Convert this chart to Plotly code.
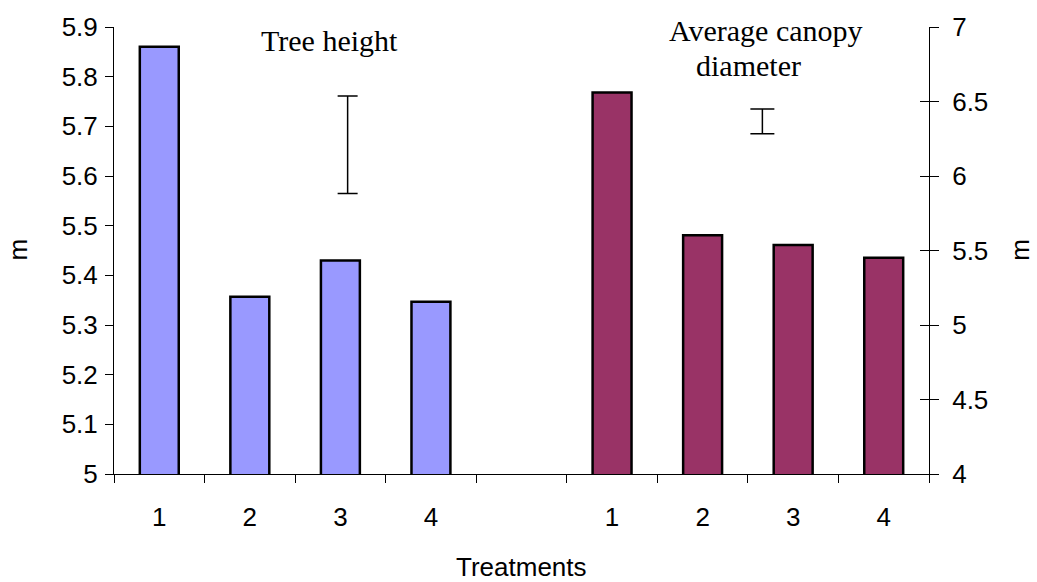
import plotly.graph_objects as go

# Treatment labels; slot 4 is the empty gap between the two groups
tick_labels = ["1", "2", "3", "4", "", "1", "2", "3", "4"]
height_pos = [0, 1, 2, 3]
canopy_pos = [5, 6, 7, 8]

tree_height = [5.86, 5.357, 5.43, 5.347]        # m, left axis
canopy_diameter = [6.56, 5.603, 5.537, 5.452]   # m, right axis

# LSD-style bars drawn beside each group
height_lsd_x, height_lsd_mid, height_lsd_half = 2.08, 5.663, 0.098
canopy_lsd_x, canopy_lsd_mid, canopy_lsd_half = 6.66, 6.366, 0.083

TICK_FONT = dict(family="Liberation Sans, Arial, sans-serif", size=26, color="black")
SERIF = dict(family="Liberation Serif, Times New Roman, serif", size=30, color="black")

fig = go.Figure()
fig.add_trace(go.Bar(
    x=height_pos, y=tree_height, width=0.43,
    marker=dict(color="#9999FF", line=dict(color="black", width=2.5)),
    yaxis="y", showlegend=False,
))
fig.add_trace(go.Bar(
    x=canopy_pos, y=canopy_diameter, width=0.43,
    marker=dict(color="#993366", line=dict(color="black", width=2.5)),
    yaxis="y2", showlegend=False,
))
fig.add_trace(go.Scatter(
    x=[height_lsd_x], y=[height_lsd_mid], mode="markers",
    marker=dict(size=1, color="rgba(0,0,0,0)"),
    error_y=dict(type="constant", value=height_lsd_half, color="black", thickness=1.5, width=10),
    yaxis="y", showlegend=False,
))
fig.add_trace(go.Scatter(
    x=[canopy_lsd_x], y=[canopy_lsd_mid], mode="markers",
    marker=dict(size=1, color="rgba(0,0,0,0)"),
    error_y=dict(type="constant", value=canopy_lsd_half, color="black", thickness=1.5, width=12),
    yaxis="y2", showlegend=False,
))

fig.update_layout(
    width=1037, height=582,
    margin=dict(l=114, r=108, t=24, b=108),
    paper_bgcolor="white", plot_bgcolor="white",
    barmode="overlay",
    xaxis=dict(
        range=[-0.5, 8.5], tickmode="array",
        tickvals=list(range(len(tick_labels))), ticktext=tick_labels,
        ticks="", ticklabelstandoff=20, tickfont=TICK_FONT,
        showgrid=False, zeroline=False,
        showline=True, linecolor="black", linewidth=1,
        minor=dict(tickmode="array", tickvals=[i - 0.5 for i in range(10)],
                   ticks="outside", ticklen=8, tickcolor="black", tickwidth=1),
    ),
    yaxis=dict(
        range=[5, 5.9], tickmode="array",
        tickvals=[5, 5.1, 5.2, 5.3, 5.4, 5.5, 5.6, 5.7, 5.8, 5.9],
        ticktext=["5", "5.1", "5.2", "5.3", "5.4", "5.5", "5.6", "5.7", "5.8", "5.9"],
        ticks="outside", ticklen=8, tickcolor="black", tickfont=TICK_FONT,
        ticklabelstandoff=2,
        showgrid=False, zeroline=False,
        showline=True, linecolor="black", linewidth=1,
    ),
    yaxis2=dict(
        range=[4, 7], overlaying="y", side="right", anchor="x",
        tickmode="array", tickvals=[4, 4.5, 5, 5.5, 6, 6.5, 7],
        ticktext=["4", "4.5", "5", "5.5", "6", "6.5", "7"],
        ticks="outside", ticklen=9, tickcolor="black", tickfont=TICK_FONT,
        ticklabelstandoff=8,
        showgrid=False, zeroline=False,
        showline=True, linecolor="black", linewidth=1,
    ),
    yaxis3=dict(
        range=[4, 7], overlaying="y", side="right", anchor="x",
        tickmode="array", tickvals=[4, 4.5, 5, 5.5, 6, 6.5, 7],
        ticks="inside", ticklen=9, tickcolor="black",
        showticklabels=False, showgrid=False, zeroline=False, showline=False,
    ),
    annotations=[
        dict(text="Tree height", x=0.265, y=0.97, xref="paper", yref="paper",
             showarrow=False, font=SERIF, xanchor="center", yanchor="middle"),
        dict(text="Average canopy", x=0.8, y=0.993, xref="paper", yref="paper",
             showarrow=False, font=SERIF, xanchor="center", yanchor="middle"),
        dict(text="diameter", x=0.779, y=0.913, xref="paper", yref="paper",
             showarrow=False, font=SERIF, xanchor="center", yanchor="middle"),
        dict(text="Treatments", x=0.5, y=-0.209, xref="paper", yref="paper",
             showarrow=False, font=TICK_FONT, xanchor="center", yanchor="middle"),
        dict(text="m", x=-0.1178, y=0.502, xref="paper", yref="paper", textangle=-90,
             showarrow=False, font=TICK_FONT, xanchor="center", yanchor="middle"),
        dict(text="m", x=1.1117, y=0.502, xref="paper", yref="paper", textangle=-90,
             showarrow=False, font=TICK_FONT, xanchor="center", yanchor="middle"),
    ],
)
# invisible trace so the inside-tick axis is drawn
fig.add_trace(go.Scatter(x=[None], y=[None], yaxis="y3", showlegend=False))

fig.write_html("out.html")
